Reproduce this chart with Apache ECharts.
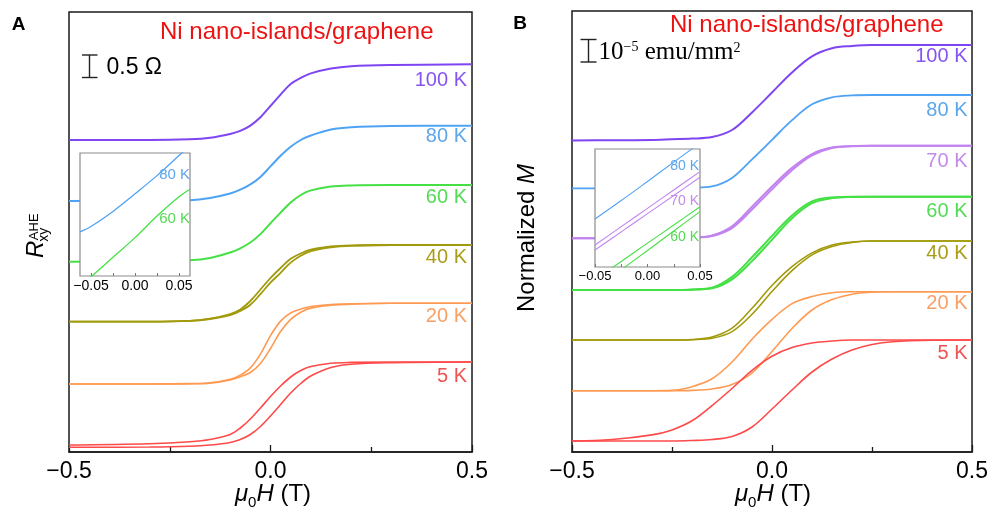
<!DOCTYPE html>
<html><head><meta charset="utf-8">
<script src="https://cdn.jsdelivr.net/npm/echarts@6/dist/echarts.min.js"></script>
<style>html,body{margin:0;padding:0;background:#fff}#c{width:991px;height:516px}</style>
</head><body><div id="c"></div>
<script>
// ---------- DATA ----------
// Panel A: anomalous Hall resistance (offset curves, arbitrary vertical units)
const fieldA = [-0.5,-0.3,-0.2,-0.15,-0.1,-0.075,-0.05,-0.025,0,0.025,0.05,0.075,0.1,0.15,0.2,0.3,0.5];
const a100     = [312,312,312.8,314.3,318.1,321.1,326.4,334.7,346.1,357.4,368,374.1,378.6,383.5,385.8,387,387.7];
const a80      = [251,251.3,251.8,254,258.5,262.3,267.6,275.1,285.6,296.2,305.2,312,316.5,322.5,324.8,326,326.3];
const a60      = [190.3,190.7,191.8,194.1,199.5,203.7,209.5,217.9,228.7,239.4,249.4,257,261.6,265.5,266.6,267,267];
const a40Down  = [130.3,130.3,131.1,133.4,138,142.6,151,162.5,174,184,193.2,198.6,202.4,205.5,206.6,207,207];
const a40Up    = [130.3,130.3,131.1,133,136.8,141,147.2,157.9,169.4,179.2,189.4,196.3,200.9,204.7,206.2,207,207];
const a20Down  = [68,68,68.4,69.2,72.8,76.9,84.1,97.9,116.4,130.9,139,143,145.5,147.5,148.3,148.7,148.7];
const a20Up    = [68,68,68.2,68.8,72,75.3,79.5,88.5,103.5,120.5,132.6,139.8,143.9,146.7,147.9,148.7,148.7];
const a5Down   = [7,8.3,10.3,12.5,17.5,24,33,44,55.5,66,75,81.5,85.5,88.7,89.6,90,90];
const a5Up     = [4.7,5,5.8,7,9.5,12.5,17.5,25.5,36,47.5,59,68.5,76,84.5,87.8,89.3,90];
// Panel B: normalized magnetization (offset curves)
const fieldB = [-0.5,-0.4,-0.3,-0.25,-0.2,-0.15,-0.1,-0.05,0,0.05,0.1,0.15,0.2,0.25,0.3,0.4,0.5];
const b100     = [311.5,311.8,312,312.7,313.4,314.9,322,339.6,359.5,379.5,395.6,403.7,406,407,407,407,407];
const b80      = [263.7,263.7,263.7,263.7,264.2,265.6,274,292.6,312.2,331.8,347.7,354.7,356.6,357,357,357,357];
const b70Down  = [213.7,213.7,213.7,213.7,214.4,216.5,225.7,245.2,265.6,284.1,297.9,304.4,305.9,306.3,306.3,306.3,306.3];
const b70Up    = [213.7,213.7,213.7,213.7,214.3,216,223.9,242.4,262.8,281.8,296.6,304,305.7,306.3,306.3,306.3,306.3];
const b60Down  = [162,162,162,162,162.5,164.3,175.1,194.7,216.1,236.6,250.6,254.6,255.3,255.3,255.3,255.3,255.3];
const b60Up    = [162,162,162,162,162.3,163.7,172.7,190.9,212.4,233.8,248.8,253.9,255.1,255.3,255.3,255.3,255.3];
const b40Down  = [112,112,112,112,112.5,115,123.9,143.7,166.5,185.3,199.1,207,210,211,211,211,211];
const b40Up    = [112,112,112,112,112.3,113.7,120.4,137.7,160.5,181.3,197.1,205.5,209.5,211,211,211,211];
const b20Down  = [61.3,61.3,61.3,61.6,65.3,73.2,90,112.8,132.6,148.4,155.4,159.3,160.3,160.3,160.3,160.3,160.3];
const b20Up    = [61.3,61.3,61.3,61.3,61.6,63,67.5,79,100.5,123.5,142,152.4,157.8,159.8,160.3,160.3,160.3];
const b5Down   = [11,12.5,17.1,22.1,31.2,46.4,63.5,81.7,95.8,104.4,109,111,112,112,112,112,112];
const b5Up     = [11,11,11,11,11.5,12.5,15.5,25,43,62,80,93,102,107.5,110.3,111.8,112];
// Insets (zoom near zero field)
const insetFieldA = [-0.0625,-0.05,-0.025,0,0.025,0.05,0.0625];
const insA80 = [35.9,40.3,52.5,66.8,81.6,97.9,106];
const insA60 = [-8,-0.7,15.2,31.2,48.7,64.4,70.5];
const insetFieldB = [-0.05,-0.025,0,0.025,0.05];
const insB80     = [40.7,56.3,72.5,88.9,105];
const insB70Down = [18.6,34.2,49.7,65.3,80.8];
const insB70Up   = [14.4,29.8,45.2,60.6,76];
const insB60Down = [-10.8,4.7,20.2,35.6,51.1];
const insB60Up   = [-18.8,-2.4,14,30.5,46.9];
// Tick values
const mainTicks = [-0.5, 0, 0.5];
const insetTicksA = [-0.05,-0.025,0,0.025,0.05];
const insetLabels = [-0.05, 0, 0.05];
const tempLabelsA = ['100 K','80 K','60 K','40 K','20 K','5 K'];
const tempLabelsB = ['100 K','80 K','70 K','60 K','40 K','20 K','5 K'];

// ---------- STYLE ----------
const SANS = "'Liberation Sans', Arial, sans-serif";
const SERIF = "'Liberation Serif', 'Times New Roman', serif";
const C = {k100:'#7f45f2', k80:'#4fa3f5', k70:'#c283f0', k60:'#45e045', k40:'#a19a0b', k20:'#ff9a52', k5:'#ff4a4a'};
const L = {k100:'#8654f2', k80:'#5ea6ea', k70:'#c48ae8', k60:'#55da55', k40:'#a99d17', k20:'#f7a066', k5:'#ee5252'};

const mctx = document.createElement('canvas').getContext('2d');
function mw(t, font){ mctx.font = font; return mctx.measureText(t).width; }
function fontStr(size, italic, bold, fam){ return (italic?'italic ':'') + (bold?'bold ':'') + size + 'px ' + (fam||SANS); }

function ser(ax, field, vals, color, width, z){
  return {type:'line', xAxisIndex:ax, yAxisIndex:ax, data: field.map((h,i)=>[h, vals[i]]),
    smooth:0.35, symbol:'none', showSymbol:false, silent:true, animation:false,
    clip:true, lineStyle:{color:color, width:width}, z: z||2};
}
function fmt(d){ return v => (v < 0 ? '\u2212' : '') + Math.abs(v).toFixed(d); }

function mainX(grid){
  return {gridIndex:grid, type:'value', min:-0.5, max:0.5, interval:0.5,
    axisLine:{show:true, lineStyle:{color:'#1a1a1a', width:1.5}},
    axisTick:{show:true, inside:true, length:7, lineStyle:{color:'#1a1a1a', width:1.3}},
    minorTick:{show:true, splitNumber:2, length:5, lineStyle:{color:'#1a1a1a', width:1.3}},
    splitLine:{show:false}, minorSplitLine:{show:false},
    axisLabel:{formatter:fmt(1), fontSize:23, fontFamily:SANS, color:'#000', margin:8, showMinLabel:true, showMaxLabel:true}};
}
function insetX(grid, min, max, ticks, fs){
  return {gridIndex:grid, type:'value', min:min, max:max, z:12,
    axisLine:{show:false},
    axisTick:{show:true, inside:true, length:3, customValues:ticks, lineStyle:{color:'#777', width:1}},
    splitLine:{show:false},
    axisLabel:{customValues:insetLabels, formatter:fmt(2), fontSize:fs, fontFamily:SANS, color:'#000', margin:3}};
}

// ---------- GRAPHICS (text) ----------
const G = [];
function txt(x, y, text, font, fill, align, extra){
  return Object.assign({type:'text', x:x, y:y, z:50, silent:true,
    style:{text:text, font:font, fill:fill, textAlign:align, align:align, textVerticalAlign:'middle', verticalAlign:'middle'}}, extra||{});
}
function run(parts, x0, base, align, fill){
  const ws = parts.map(p => mw(p.t, fontStr(p.size, p.italic, false, p.fam)));
  const tot = ws.reduce((a,b)=>a+b,0);
  let x = align==='center' ? x0 - tot/2 : x0;
  const out = [];
  parts.forEach((p,i)=>{
    out.push(txt(x, base + (p.dy||0) - 0.35*p.size, p.t, fontStr(p.size, p.italic, false, p.fam), fill||'#000', 'left'));
    x += ws[i];
  });
  return out;
}
G.push(txt(18.5, 25, 'A', fontStr(19,false,true), '#000', 'center'));
G.push(txt(520, 24, 'B', fontStr(19,false,true), '#000', 'center'));
G.push(txt(160, 32, 'Ni nano-islands/graphene', fontStr(24), '#ee1111', 'left'));
G.push(txt(670, 25, 'Ni nano-islands/graphene', fontStr(24), '#ee1111', 'left'));
const barStyle = {stroke:'#222', lineWidth:1.4};
G.push({type:'line', z:50, silent:true, shape:{x1:89.5,y1:55,x2:89.5,y2:77.5}, style:barStyle});
G.push({type:'line', z:50, silent:true, shape:{x1:82,y1:55,x2:97.5,y2:55}, style:barStyle});
G.push({type:'line', z:50, silent:true, shape:{x1:82,y1:77.5,x2:97.5,y2:77.5}, style:barStyle});
G.push(txt(106.5, 68, '0.5 \u03A9', fontStr(23), '#000', 'left'));
G.push({type:'line', z:50, silent:true, shape:{x1:588.5,y1:39.5,x2:588.5,y2:62}, style:barStyle});
G.push({type:'line', z:50, silent:true, shape:{x1:580.5,y1:39.5,x2:596.5,y2:39.5}, style:barStyle});
G.push({type:'line', z:50, silent:true, shape:{x1:580.5,y1:62,x2:596.5,y2:62}, style:barStyle});
run([{t:'10',size:25,fam:SERIF},{t:'\u22125',size:14,fam:SERIF,dy:-9},{t:' emu/mm',size:25,fam:SERIF},{t:'2',size:14,fam:SERIF,dy:-8}], 598.5, 61, 'left').forEach(e=>G.push(e));
const ysA = [80,136.7,197.3,257.3,316.7,376.7];
const colA = [L.k100,L.k80,L.k60,L.k40,L.k20,L.k5];
tempLabelsA.forEach((t,i)=>G.push(txt(467, ysA[i], t, fontStr(20), colA[i], 'right')));
const ysB = [56.7,110,161,211,253.3,303.3,353.3];
const colB = [L.k100,L.k80,L.k70,L.k60,L.k40,L.k20,L.k5];
tempLabelsB.forEach((t,i)=>G.push(txt(967.5, ysB[i], t, fontStr(20), colB[i], 'right')));
G.push(txt(190, 175, '80 K', fontStr(15), L.k80, 'right'));
G.push(txt(190, 219, '60 K', fontStr(15), L.k60, 'right'));
G.push(txt(699, 166.5, '80 K', fontStr(14), L.k80, 'right'));
G.push(txt(699, 201.5, '70 K', fontStr(14), L.k70, 'right'));
G.push(txt(699, 236.7, '60 K', fontStr(14), L.k60, 'right'));
const xt = [{t:'\u03BC',size:24,italic:true},{t:'0',size:15,dy:5},{t:'H',size:24,italic:true},{t:' (T)',size:24}];
run(xt, 273, 503, 'center').forEach(e=>G.push(e));
run(xt, 773, 503, 'center').forEach(e=>G.push(e));
(function(){
  const fR = fontStr(24,true), fS = fontStr(14), fU = fontStr(13);
  const wR = mw('R', fR);
  G.push({type:'group', x:45, y:258, rotation:Math.PI/2, z:50, silent:true, children:[
    {type:'text', x:0, y:-0.35*24, z:50, style:{text:'R', font:fR, fill:'#000', textAlign:'left', align:'left', textVerticalAlign:'middle', verticalAlign:'middle'}},
    {type:'text', x:wR+0.5, y:-6-0.35*13, z:50, style:{text:'AHE', font:fU, fill:'#000', textAlign:'left', align:'left', textVerticalAlign:'middle', verticalAlign:'middle'}},
    {type:'text', x:wR-1, y:4-0.35*14, z:50, style:{text:'xy', font:fS, fill:'#000', textAlign:'left', align:'left', textVerticalAlign:'middle', verticalAlign:'middle'}}
  ]});
})();
(function(){
  const f1 = fontStr(24), f2 = fontStr(24,true);
  const w1 = mw('Normalized ', f1), w2 = mw('M', f2);
  const x0 = -(w1+w2)/2;
  G.push({type:'group', x:527, y:238, rotation:Math.PI/2, z:50, silent:true, children:[
    {type:'text', x:x0, y:0, z:50, style:{text:'Normalized ', font:f1, fill:'#000', textAlign:'left', align:'left', textVerticalAlign:'middle', verticalAlign:'middle'}},
    {type:'text', x:x0+w1, y:0, z:50, style:{text:'M', font:f2, fill:'#000', textAlign:'left', align:'left', textVerticalAlign:'middle', verticalAlign:'middle'}}
  ]});
})();

// ---------- CHART ----------
const chart = echarts.init(document.getElementById('c'), null, {renderer:'canvas'});
const option = {
  animation:false,
  backgroundColor:'#fff',
  grid:[
    {left:69, top:12, width:403, height:440, show:true, borderColor:'#1a1a1a', borderWidth:1.5, backgroundColor:'transparent', z:0},
    {left:572, top:11, width:401, height:441, show:true, borderColor:'#1a1a1a', borderWidth:1.5, backgroundColor:'transparent', z:0},
    {left:80, top:153, width:110, height:123, show:true, borderColor:'#8c8c8c', borderWidth:1.2, backgroundColor:'#fff', z:10},
    {left:595, top:149, width:105, height:118, show:true, borderColor:'#8c8c8c', borderWidth:1.2, backgroundColor:'#fff', z:10}
  ],
  xAxis:[
    mainX(0), mainX(1),
    insetX(2, -0.0625, 0.0625, insetTicksA, 14),
    insetX(3, -0.05, 0.05, insetTicksA, 13)
  ],
  yAxis:[
    {gridIndex:0, type:'value', min:0, max:440, show:false},
    {gridIndex:1, type:'value', min:0, max:441, show:false},
    {gridIndex:2, type:'value', min:0, max:100, show:false},
    {gridIndex:3, type:'value', min:0, max:100, show:false}
  ],
  series:[
    ser(0, fieldA, a100, C.k100, 2),
    ser(0, fieldA, a80, C.k80, 2),
    ser(0, fieldA, a60, C.k60, 2),
    ser(0, fieldA, a40Down, C.k40, 1.8),
    ser(0, fieldA, a40Up, C.k40, 1.8),
    ser(0, fieldA, a20Down, C.k20, 1.6),
    ser(0, fieldA, a20Up, C.k20, 1.6),
    ser(0, fieldA, a5Down, C.k5, 1.6),
    ser(0, fieldA, a5Up, C.k5, 1.6),
    ser(1, fieldB, b100, C.k100, 2),
    ser(1, fieldB, b80, C.k80, 1.8),
    ser(1, fieldB, b70Down, C.k70, 2),
    ser(1, fieldB, b70Up, C.k70, 2),
    ser(1, fieldB, b60Down, C.k60, 2),
    ser(1, fieldB, b60Up, C.k60, 2),
    ser(1, fieldB, b40Down, C.k40, 1.6),
    ser(1, fieldB, b40Up, C.k40, 1.6),
    ser(1, fieldB, b20Down, C.k20, 1.6),
    ser(1, fieldB, b20Up, C.k20, 1.6),
    ser(1, fieldB, b5Down, C.k5, 1.6),
    ser(1, fieldB, b5Up, C.k5, 1.6),
    ser(2, insetFieldA, insA80, C.k80, 1.3, 12),
    ser(2, insetFieldA, insA60, C.k60, 1.3, 12),
    ser(3, insetFieldB, insB80, C.k80, 1.1, 12),
    ser(3, insetFieldB, insB70Down, C.k70, 1.1, 12),
    ser(3, insetFieldB, insB70Up, C.k70, 1.1, 12),
    ser(3, insetFieldB, insB60Down, C.k60, 1.1, 12),
    ser(3, insetFieldB, insB60Up, C.k60, 1.1, 12)
  ],
  graphic: G
};
chart.setOption(option);
</script>
</body></html>
